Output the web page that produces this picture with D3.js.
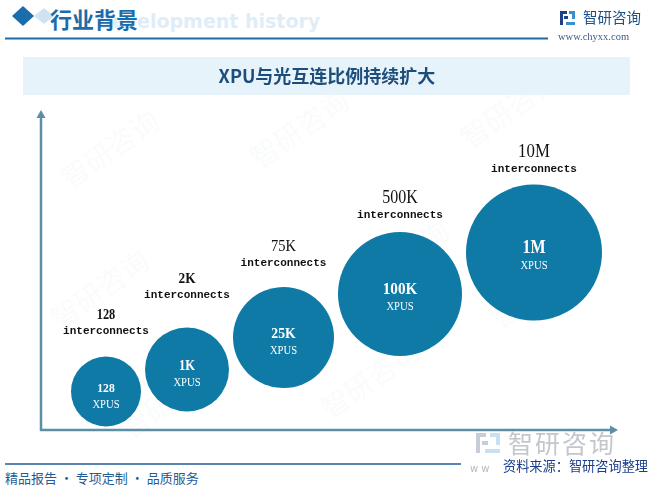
<!DOCTYPE html>
<html><head><meta charset="utf-8">
<script src="https://cdn.jsdelivr.net/npm/d3@7"></script>
<style>body{margin:0;background:#fff;}svg{display:block;}</style>
</head><body><svg id="c" width="657" height="494"></svg>
<script>
// ---- data ----
const interconnectLabels = ["128", "2K", "75K", "500K", "10M"];
const interconnectCounts = [128, 2000, 75000, 500000, 10000000];
const xpuLabels = ["128", "1K", "25K", "100K", "1M"];
const xpuCounts = [128, 1000, 25000, 100000, 1000000];
const chartTitle = "XPU与光互连比例持续扩大";
const unitTop = "interconnects";
const unitInner = "XPUS";

const svg = d3.select("#c");
const blue = "#0f7aa6", axisC = "#5c8ea6";

// ---- watermarks ----
const wm = svg.append("g").attr("fill", "#7f9bb5").attr("opacity", 0.045)
  .attr("font-family", "Noto Sans CJK SC").attr("font-size", 28);
[[70,190],[260,170],[470,150],[130,440],[330,420],[500,330],[60,330],[360,300]].forEach(p => {
  wm.append("text").attr("transform", `translate(${p[0]},${p[1]}) rotate(-35)`).text("智研咨询");
});

// ---- header ----
svg.append("path").attr("d", "M34,16 L44,8 L54,16 L44,24Z").attr("fill", "#cfe3f3");
svg.append("path").attr("d", "M12,16 L23,6 L34,16 L23,26Z").attr("fill", "#1b6cab");
svg.append("text").attr("x", 96).attr("y", 28).attr("font-family", "DejaVu Sans")
  .attr("font-weight", "bold").attr("font-size", 19).attr("fill", "#dfedf8").text("Development history");
svg.append("text").attr("x", 50).attr("y", 28).attr("font-family", "Noto Sans CJK SC")
  .attr("font-weight", "bold").attr("font-size", 22).attr("fill", "#1b6cab").text("行业背景");
svg.append("line").attr("x1", 5).attr("x2", 548).attr("y1", 38.5).attr("y2", 38.5)
  .attr("stroke", "#1f6aa5").attr("stroke-width", 2);
// logo
const lg = svg.append("g").attr("transform", "translate(560,11)");
lg.append("rect").attr("x", 0).attr("y", 0).attr("width", 7).attr("height", 3).attr("fill", "#1c3f86");
lg.append("rect").attr("x", 0).attr("y", 0).attr("width", 3).attr("height", 14).attr("fill", "#1c3f86");
lg.append("rect").attr("x", 4).attr("y", 5).attr("width", 4).attr("height", 3).attr("fill", "#1c3f86");
lg.append("rect").attr("x", 9).attr("y", 0).attr("width", 6).attr("height", 3).attr("fill", "#3b8fd0");
lg.append("rect").attr("x", 12).attr("y", 0).attr("width", 3).attr("height", 8).attr("fill", "#3b8fd0");
lg.append("rect").attr("x", 6).attr("y", 11).attr("width", 9).attr("height", 3).attr("fill", "#3b8fd0");
svg.append("text").attr("x", 583).attr("y", 23).attr("font-family", "Noto Sans CJK SC")
  .attr("font-size", 14.5).attr("fill", "#1c4f86").text("智研咨询");
svg.append("text").attr("x", 558).attr("y", 40).attr("font-family", "Liberation Serif")
  .attr("font-size", 10.5).attr("fill", "#3a5c80").text("www.chyxx.com");

// ---- title box ----
svg.append("rect").attr("x", 23).attr("y", 57).attr("width", 607).attr("height", 38).attr("fill", "#e6f3fb");
svg.append("text").attr("x", 327).attr("y", 83).attr("text-anchor", "middle")
  .attr("font-family", "Noto Sans CJK SC").attr("font-weight", "bold").attr("font-size", 18)
  .attr("fill", "#1d4e7a").text(chartTitle);

// ---- axes ----
const x0 = 41, yBase = 430;
svg.append("line").attr("x1", x0).attr("x2", x0).attr("y1", 116).attr("y2", yBase + 1)
  .attr("stroke", axisC).attr("stroke-width", 2.5);
svg.append("line").attr("x1", x0 - 1).attr("x2", 612).attr("y1", yBase).attr("y2", yBase)
  .attr("stroke", axisC).attr("stroke-width", 2.5);
svg.append("path").attr("d", `M${x0},110 L${x0-4.5},118 L${x0+4.5},118Z`).attr("fill", axisC);
svg.append("path").attr("d", `M618,${yBase} L610,${yBase-4.5} L610,${yBase+4.5}Z`).attr("fill", axisC);

// ---- scales ----
const rScale = d3.scaleLog().domain(xpuCounts).range([35, 42, 50.5, 62, 68]);
const yScale = d3.scaleLog().domain(interconnectCounts).range([391.5, 369.5, 337.5, 294, 252.5]);
const gap = 4;
const data = xpuCounts.map((v, i) => ({
  xpu: v, xpuLabel: xpuLabels[i], ic: interconnectCounts[i], icLabel: interconnectLabels[i]
}));
let cursor = 71;
data.forEach(d => { d.r = rScale(d.xpu); d.cx = cursor + d.r; cursor += 2 * d.r + gap; d.cy = yScale(d.ic); });
const fs = r => 8 + r * 0.15;
const labelOff = [23, 30, 21, 14, 13];

const g = svg.append("g");
g.selectAll("circle").data(data).join("circle")
  .attr("cx", d => d.cx).attr("cy", d => d.cy).attr("r", d => d.r).attr("fill", blue);

// inner labels
g.selectAll("text.v").data(data).join("text").attr("class", "v")
  .attr("transform", d => `translate(${d.cx},${d.cy}) scale(0.88,1)`)
  .attr("text-anchor", "middle").attr("font-family", "Liberation Serif").attr("font-weight", "bold")
  .attr("font-size", d => fs(d.r)).attr("fill", "#fff").text(d => d.xpuLabel);
g.selectAll("text.u").data(data).join("text").attr("class", "u")
  .attr("transform", d => `translate(${d.cx},${d.cy + 16}) scale(0.85,1)`)
  .attr("text-anchor", "middle").attr("font-family", "Liberation Serif")
  .attr("font-size", 12.5).attr("fill", "#fff").text(unitInner);

// top labels
g.selectAll("text.ic").data(data).join("text").attr("class", "ic")
  .attr("x", d => d.cx).attr("y", (d, i) => d.cy - d.r - labelOff[i])
  .attr("text-anchor", "middle").attr("font-family", "Liberation Mono").attr("font-weight", "bold")
  .attr("font-size", 11).attr("fill", "#111").text(unitTop);
g.selectAll("text.icv").data(data).join("text").attr("class", "icv")
  .attr("transform", (d, i) => `translate(${d.cx},${d.cy - d.r - labelOff[i] - 15}) scale(0.9,1)`)
  .attr("text-anchor", "middle").attr("font-family", "Liberation Serif")
  .attr("font-weight", (d, i) => i < 2 ? "bold" : "normal")
  .attr("font-size", d => fs(d.r) + 0.5).attr("fill", "#111").text(d => d.icLabel);

// ---- footer ----
svg.append("line").attr("x1", 5).attr("x2", 461).attr("y1", 464).attr("y2", 464)
  .attr("stroke", "#1f5d94").attr("stroke-width", 1.5);
svg.append("text").attr("x", 5).attr("y", 483).attr("font-family", "Noto Sans CJK SC")
  .attr("font-size", 13).attr("fill", "#1f5d94").text("精品报告 · 专项定制 · 品质服务");
const bl = svg.append("g").attr("transform", "translate(476,433)").attr("opacity", 0.55);
bl.append("rect").attr("x", 0).attr("y", 0).attr("width", 10).attr("height", 4).attr("fill", "#9aa5b5");
bl.append("rect").attr("x", 0).attr("y", 0).attr("width", 4).attr("height", 20).attr("fill", "#9aa5b5");
bl.append("rect").attr("x", 6).attr("y", 8).attr("width", 6).attr("height", 4).attr("fill", "#9aa5b5");
bl.append("rect").attr("x", 14).attr("y", 0).attr("width", 10).attr("height", 4).attr("fill", "#9cc7ea");
bl.append("rect").attr("x", 20).attr("y", 0).attr("width", 4).attr("height", 12).attr("fill", "#9cc7ea");
bl.append("rect").attr("x", 9).attr("y", 16).attr("width", 15).attr("height", 4).attr("fill", "#9cc7ea");
svg.append("text").attr("x", 508).attr("y", 453).attr("font-family", "Noto Sans CJK SC")
  .attr("font-size", 25).attr("fill", "#c3c7cc").attr("letter-spacing", 2).text("智研咨询");
svg.append("text").attr("x", 470).attr("y", 472).attr("font-family", "DejaVu Sans")
  .attr("font-size", 10).attr("fill", "#b5b9be").text("w w");
svg.append("text").attr("x", 503).attr("y", 471).attr("font-family", "Noto Sans CJK SC")
  .attr("font-size", 13.2).attr("fill", "#1a3e8a").text("资料来源：智研咨询整理");
</script></body></html>
